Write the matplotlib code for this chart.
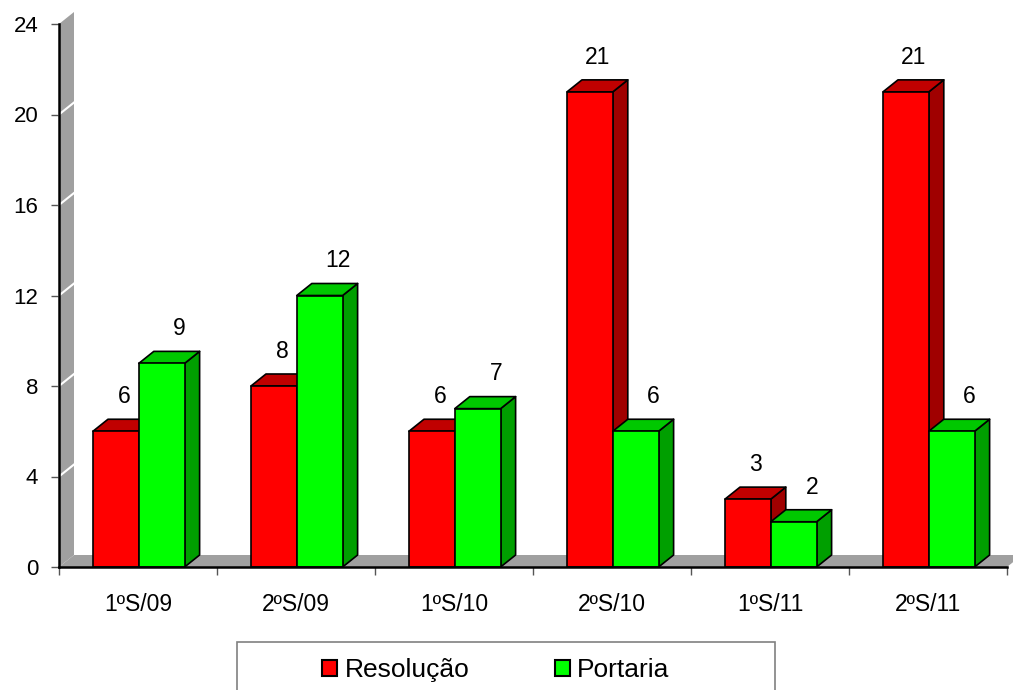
import matplotlib
matplotlib.use("Agg")
import matplotlib.pyplot as plt
from matplotlib.patches import Polygon, Rectangle, Patch

plt.rcParams['font.family'] = ['Liberation Sans', 'DejaVu Sans']

categories = ['1ºS/09', '2ºS/09', '1ºS/10', '2ºS/10', '1ºS/11', '2ºS/11']
resolucao = [6, 8, 6, 21, 3, 21]
portaria = [9, 12, 7, 6, 2, 6]
series_names = ['Resolução', 'Portaria']
yticks = [0, 4, 8, 12, 16, 20, 24]

# face colours: front, top, side
red = ('#ff0000', '#c00000', '#a00000')
green = ('#00ff00', '#00c800', '#009f00')
wall = '#a0a0a0'

fig = plt.figure(figsize=(10.13, 6.9), dpi=100)
ax = fig.add_axes([59 / 1013, 1 - 567 / 690, 948 / 1013, 543 / 690])
ax.set_xlim(0, len(categories))
ax.set_ylim(0, 24)

# depth of the fake 3d in data units (about 15px right, 12px up)
dx = 15 / 158
dy = 12 / 22.625
width = 0.29
start = 0.215

# side wall and floor
ax.add_patch(Polygon([(0, 0), (dx, dy), (dx, 24 + dy), (0, 24)],
                     closed=True, facecolor=wall, edgecolor='none',
                     clip_on=False, zorder=1))
ax.add_patch(Polygon([(0, 0), (len(categories), 0),
                      (len(categories) + dx, dy), (dx, dy)],
                     closed=True, facecolor=wall, edgecolor='none',
                     clip_on=False, zorder=1))
for v in yticks[1:-1]:
    ax.plot([0, dx], [v, v + dy], color='white', lw=1.5, zorder=2,
            clip_on=False)


def bar3d(x0, h, cols, z, lab_off):
    x1 = x0 + width
    kw = dict(closed=True, edgecolor='black', lw=1.2, joinstyle='round',
              clip_on=False, zorder=z)
    ax.add_patch(Polygon([(x1, 0), (x1 + dx, dy), (x1 + dx, h + dy), (x1, h)],
                         facecolor=cols[2], **kw))
    ax.add_patch(Polygon([(x0, h), (x1, h), (x1 + dx, h + dy), (x0 + dx, h + dy)],
                         facecolor=cols[1], **kw))
    ax.add_patch(Polygon([(x0, 0), (x1, 0), (x1, h), (x0, h)],
                         facecolor=cols[0], **kw))
    ax.text(x0 + width / 2 + lab_off, h + dy + 1.0, str(h), ha='center',
            va='center', fontsize=16.5, zorder=10)


z = 3
for i in range(len(categories)):
    bar3d(i + start, resolucao[i], red, z, 8 / 158)
    z += 1
    bar3d(i + start + width, portaria[i], green, z, 18 / 158)
    z += 1

for s in ['top', 'right']:
    ax.spines[s].set_visible(False)
for s in ['left', 'bottom']:
    ax.spines[s].set_linewidth(1.8)
    ax.spines[s].set_zorder(20)

ax.set_yticks(yticks)
ax.tick_params(axis='y', labelsize=16, length=6, width=1, color='#555555',
               pad=9)
ax.set_xticks(range(len(categories) + 1))
ax.set_xticklabels([])
ax.tick_params(axis='x', which='major', length=6, width=1, color='#555555')
ax.set_xticks([i + 0.5 for i in range(len(categories))], minor=True)
ax.set_xticklabels(categories, minor=True)
ax.tick_params(axis='x', which='minor', length=0, labelsize=16.5, pad=19)

# legend box (runs off the bottom of the picture)
fig.patches.append(Rectangle((237 / 1013, -0.05), (775 - 237) / 1013,
                             0.05 + (690 - 642) / 690,
                             transform=fig.transFigure, facecolor='white',
                             edgecolor='#808080', lw=1.2))
handles = [Patch(facecolor=red[0], edgecolor='black', lw=1.5),
           Patch(facecolor=green[0], edgecolor='black', lw=1.5)]
fig.legend(handles, series_names, loc='center', ncol=2,
           bbox_to_anchor=(496 / 1013, 1 - 670 / 690), frameon=False,
           fontsize=19, handlelength=0.57, handleheight=0.57,
           handletextpad=0.27, columnspacing=3.26, borderpad=0)

fig.savefig('out.png', dpi=100)
